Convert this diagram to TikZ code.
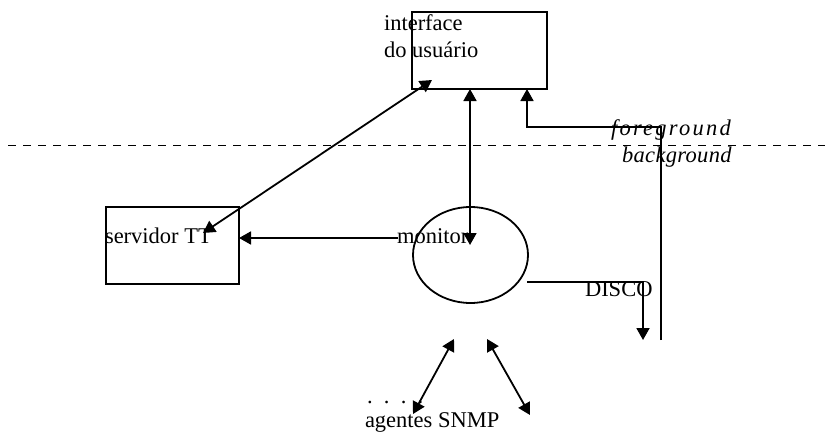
\documentclass[tikz,border=0pt]{standalone}
\usepackage{fontspec}
\setmainfont{Liberation Serif}
\newfontfamily\fgfont[LetterSpace=10]{Liberation Serif}
\newfontfamily\bgfont[LetterSpace=1.5]{Liberation Serif}
\usetikzlibrary{arrows.meta,shapes.geometric}
\begin{document}
\begin{tikzpicture}[x=1pt,y=-1pt,
  every node/.style={font=\fontsize{22.5}{27}\selectfont, inner sep=0pt, outer sep=0pt},
  box/.style={draw, line width=1.8pt, rectangle},
  conn/.style={line width=1.8pt, -{Triangle[length=12pt,width=13pt]}},
  dconn/.style={line width=1.8pt, {Triangle[length=12pt,width=13pt]}-{Triangle[length=12pt,width=13pt]}},
  lbl/.style={anchor=base west}]
\useasboundingbox (0,0) rectangle (825,434);
% shapes
\node[box, minimum width=135pt, minimum height=77pt] (ui) at (479.5,50.5) {};
\node[box, minimum width=133pt, minimum height=77pt] (tt) at (172.5,245.5) {};
\node[draw, line width=1.8pt, ellipse, minimum width=115pt, minimum height=96pt] (mon) at (470.5,255) {};
% labels
\node[lbl] (tui1) at (384,30) {interface};
\node[lbl] (tui2) at (384,57) {do usuário};
\node[lbl] (ttt) at (105,243) {servidor TT};
\node[lbl] (tmon) at (397,243) {monitor};
\node[lbl] (tdisco) at (585,296) {DISCO};
\node[lbl] (tdots) at (367,403) {.\ \ .\ \ .\ \ .};
\node[lbl] (tag) at (365,427) {agentes SNMP};
\node[lbl] (tfg) at (611,135) {\fgfont\itshape foreground};
\node[lbl] (tbg) at (622,162) {\bgfont\itshape background};
% dashed separator
\coordinate (dl) at (8,145);
\coordinate (dr) at (825,145);
\draw[line width=1pt, dash pattern=on 8pt off 7pt] (dl) -- (dr);
% coordinates
\coordinate (uiA) at (432,80);
\coordinate (ttA) at (203,233);
\coordinate (uiB) at (470,89);
\coordinate (monB) at (470,245);
\coordinate (fgS) at (661,340);
\coordinate (fgC1) at (661,127);
\coordinate (fgC2) at (527,127);
\coordinate (uiC) at (527,89);
\coordinate (monT) at (398,238);
\coordinate (ttR) at (239,238);
\coordinate (dS) at (527,282);
\coordinate (dC) at (643,282);
\coordinate (dE) at (643,340);
\coordinate (a1) at (454,339);
\coordinate (a2) at (413,414);
\coordinate (b1) at (487,339);
\coordinate (b2) at (530,415);
% connectors
\draw[dconn] (ttA) -- (uiA);
\draw[dconn] (uiB) -- (monB);
\draw[conn] (fgS) -- (fgC1) -- (fgC2) -- (uiC);
\draw[conn] (monT) -- (ttR);
\draw[conn] (dS) -- (dC) -- (dE);
\draw[dconn] (a1) -- (a2);
\draw[dconn] (b1) -- (b2);
\end{tikzpicture}
\end{document}
